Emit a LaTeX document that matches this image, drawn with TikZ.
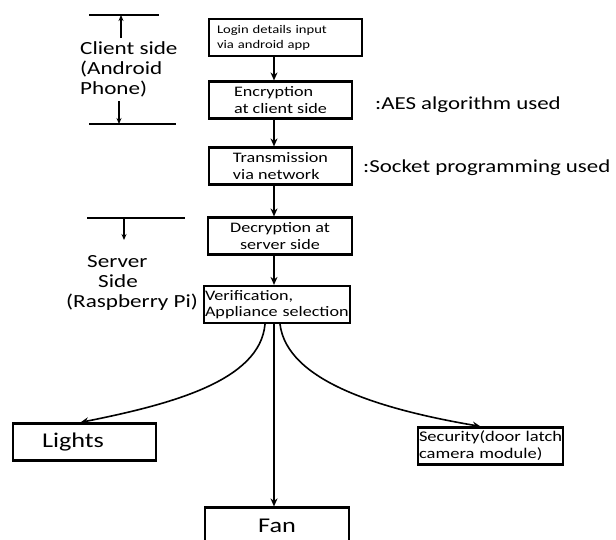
\documentclass[tikz,border=0pt]{standalone}
\usepackage{fontspec}
\setmainfont{Carlito}[FakeStretch=1.25]
\usetikzlibrary{arrows.meta}

\tikzset{
  flowbox/.style={draw, line width=2.2pt, minimum width=#1, minimum height=37pt,
    inner ysep=1pt, inner xsep=1pt, align=left, font=\fontsize{14.5}{16.5}\selectfont},
  bigbox/.style={flowbox=#1, font=\fontsize{21}{24}\selectfont},
  arr/.style={line width=1.6pt, -{Stealth[length=8pt,width=7pt]}},
  smallarr/.style={line width=1.6pt, -{Stealth[length=6pt,width=5pt]}},
  bar/.style={line width=2.2pt},
  sidetext/.style={inner sep=0pt, align=left, font=\fontsize{18.5}{20}\selectfont},
  notetext/.style={inner sep=0pt, anchor=base west, font=\fontsize{18.3}{20}\selectfont}
}

\begin{document}
\begin{tikzpicture}[x=1pt, y=-1pt]
\useasboundingbox (0,0) rectangle (616,539);
\clip (0,0) rectangle (616,539);

\node[flowbox=153pt, text width=137pt, inner xsep=8pt, font=\fontsize{11.7}{15}\selectfont] (login) at (285.5,37.5) {Login details input\\via android app};
\node[flowbox=143pt] (encrypt) at (280.5,100) {Encryption\\at client side};
\node[flowbox=143pt] (transmit) at (280.5,166) {Transmission\\via network};
\node[flowbox=144pt, align=center] (decrypt) at (280,236) {Decryption at\\server side};
\node[flowbox=146pt, text width=144pt] (verify) at (277,304.5) {\mbox{Verification,}\\\mbox{Appliance selection}};
\node[bigbox=143pt, text width=85pt, inner xsep=29pt] (lights) at (84.5,442) {Lights};
\node[flowbox=145pt, text width=143pt, font=\fontsize{14.8}{17}\selectfont] (security) at (490.5,446) {\mbox{Security(door latch}\\\mbox{camera module)}};
\node[bigbox=144pt, align=center] (fan) at (277,526) {Fan};

\coordinate (spine) at (274,0);
\draw[arr] (login.south -| spine) -- (encrypt.north -| spine);
\draw[arr] (encrypt.south -| spine) -- (transmit.north -| spine);
\draw[arr] (transmit.south -| spine) -- (decrypt.north -| spine);
\draw[arr] (decrypt.south -| spine) -- (verify.north -| spine);
\draw[arr] (verify.south -| spine) -- (fan.north -| spine);
\draw[arr] ([xshift=-12pt]verify.south) .. controls +(-5,57) and +(90,-18) .. ([xshift=-4pt]lights.north);
\draw[arr] ([xshift=3pt]verify.south) .. controls +(7,57) and +(-100,-17) .. ([xshift=-10pt]security.north);

\node[notetext] (aes) at (375,109) {:AES algorithm used};
\node[notetext] (socket) at (363,172) {:Socket programming used};

\node[sidetext, anchor=north west] (client) at (80,41) {Client side\\(Android\\Phone)};
\coordinate (clienttop) at (121,15);
\coordinate (clientbot) at (119,124);
\draw[bar] (89,15) -- (159,15);
\draw[bar] (89,124) -- (176,124);
\draw[smallarr] ([yshift=-23pt]clienttop) -- (clienttop);
\draw[smallarr] ([yshift=23pt]clientbot) -- (clientbot);

\node[sidetext, anchor=north west] (server) at (66,255) {\hspace*{21pt}Server\\\hspace*{32pt}Side\\(Raspberry Pi)};
\coordinate (servertop) at (124,218);
\draw[bar] (87,218) -- (185,218);
\draw[smallarr] (servertop) -- ([yshift=-22pt]servertop);
\end{tikzpicture}
\end{document}
